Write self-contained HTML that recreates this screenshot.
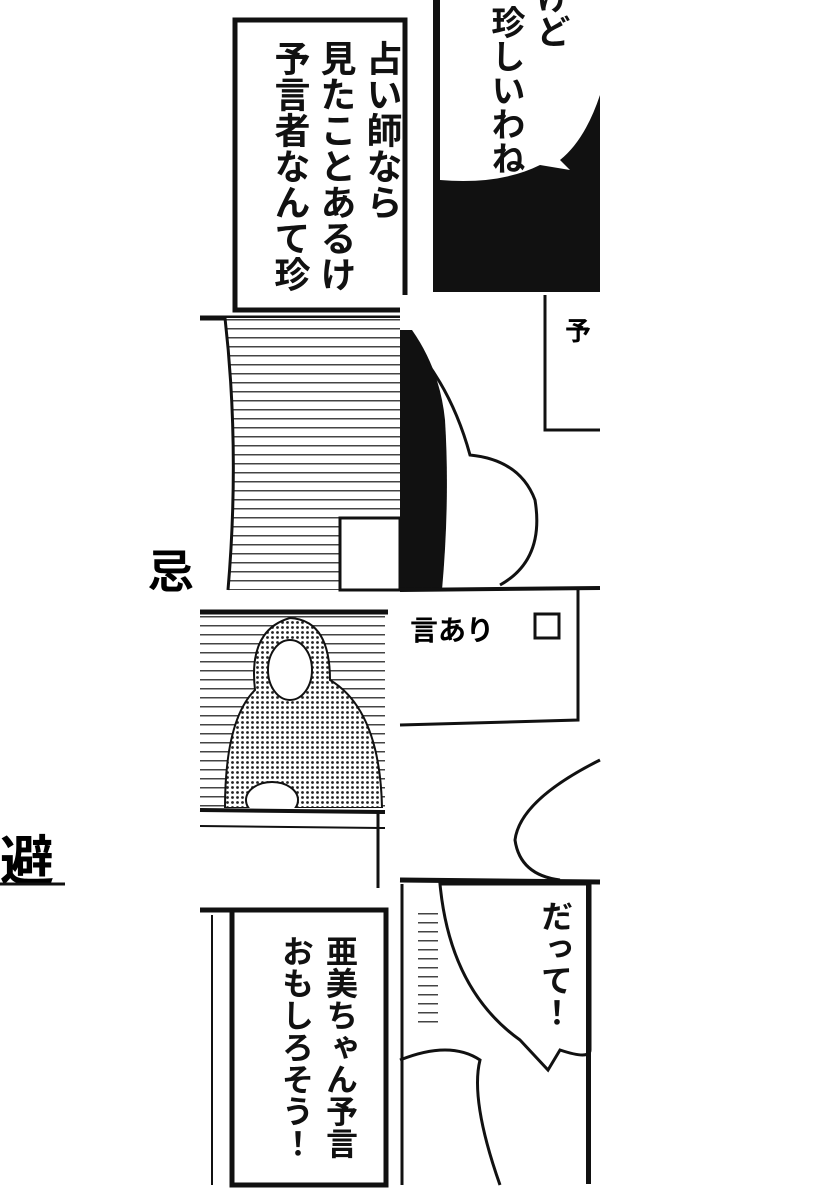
<!DOCTYPE html>
<html><head><meta charset="utf-8"><style>
html,body{margin:0;padding:0;background:#fff;}
svg{display:block}
.v{writing-mode:vertical-rl;font-family:"Liberation Sans","Noto Sans CJK JP",sans-serif;font-weight:bold;fill:#111}
</style></head><body>
<svg width="820" height="1200" viewBox="0 0 820 1200" xmlns="http://www.w3.org/2000/svg">
<defs>
<pattern id="dots" width="5" height="5" patternUnits="userSpaceOnUse"><rect width="5" height="5" fill="#fff"/><circle cx="2.5" cy="2.5" r="1.4" fill="#222"/></pattern>
<pattern id="hl" width="10" height="9" patternUnits="userSpaceOnUse"><rect width="10" height="9" fill="#fff"/><rect y="4" width="10" height="1.5" fill="#444"/></pattern>
</defs>
<rect x="235" y="20" width="170" height="290" fill="#fff" stroke="#111" stroke-width="5"/>
<text class="v" x="382" y="40" font-size="36" style="writing-mode:tb">占い師なら</text>
<text class="v" x="336" y="40" font-size="36" style="writing-mode:tb">見たことあるけ</text>
<text class="v" x="290" y="40" font-size="36" style="writing-mode:tb">予言者なんて珍</text>
<rect x="433" y="0" width="167" height="292" fill="#111"/>
<path d="M440 0 L600 0 L600 95 Q585 140 560 160 L570 170 L540 165 Q500 185 440 180 Z" fill="#fff"/>
<text class="v" x="505" y="5" font-size="34" style="writing-mode:tb">珍しいわね</text>
<text class="v" x="550" y="-20" font-size="34" style="writing-mode:tb">けど</text>
<rect x="200" y="315" width="200" height="275" fill="#fff"/>
<path d="M200 318 L400 318" stroke="#111" stroke-width="5"/>
<path d="M225 318 Q240 450 228 590 L400 590 L400 318 Z" fill="url(#hl)"/>
<path d="M225 318 Q240 450 228 590" stroke="#111" stroke-width="3" fill="none"/>
<rect x="340" y="518" width="60" height="72" fill="#fff" stroke="#111" stroke-width="3"/>
<text x="148" y="588" font-size="46" font-weight="bold" font-family="Liberation Sans,Noto Sans CJK JP,sans-serif">忌</text>
<rect x="400" y="295" width="200" height="295" fill="#fff"/>
<path d="M400 330 L412 330 Q440 370 445 420 Q450 500 442 590 L400 590 Z" fill="#111"/>
<path d="M425 360 Q455 400 470 455 Q520 460 535 500 Q545 560 500 585" stroke="#111" stroke-width="3" fill="none"/>
<path d="M545 295 L545 430 L600 430" stroke="#111" stroke-width="3" fill="none"/>
<line x1="400" y1="590" x2="600" y2="588" stroke="#111" stroke-width="4"/>
<text x="565" y="340" font-size="26" font-weight="bold" font-family="Noto Sans CJK JP,sans-serif">予</text>
<rect x="200" y="610" width="185" height="275" fill="url(#hl)"/>
<line x1="200" y1="612" x2="388" y2="612" stroke="#111" stroke-width="5"/>
<path d="M225 808 Q225 720 255 690 Q248 630 290 618 Q330 620 330 680 Q380 710 382 808 Z" fill="url(#dots)" stroke="#111" stroke-width="2"/>
<ellipse cx="290" cy="670" rx="22" ry="30" fill="#fff" stroke="#111" stroke-width="2"/>
<ellipse cx="272" cy="800" rx="26" ry="18" fill="#fff" stroke="#111" stroke-width="2"/>
<rect x="200" y="808" width="185" height="80" fill="#fff"/>
<line x1="200" y1="810" x2="385" y2="812" stroke="#111" stroke-width="4"/>
<line x1="200" y1="826" x2="385" y2="828" stroke="#111" stroke-width="2"/>
<line x1="378" y1="812" x2="378" y2="888" stroke="#111" stroke-width="3"/>
<text x="410" y="640" font-size="28" font-weight="bold" font-family="Noto Sans CJK JP,sans-serif">言あり</text>
<rect x="535" y="614" width="24" height="24" fill="none" stroke="#111" stroke-width="3"/>
<path d="M578 590 L578 720 L400 725" stroke="#111" stroke-width="3" fill="none"/>
<path d="M600 760 Q520 800 515 840 Q520 875 560 880" stroke="#111" stroke-width="3" fill="none"/>
<line x1="400" y1="880" x2="600" y2="882" stroke="#111" stroke-width="5"/>
<text x="0" y="880" font-size="54" font-weight="bold" font-family="Liberation Sans,Noto Sans CJK JP,sans-serif">避</text>
<line x1="0" y1="884" x2="65" y2="884" stroke="#111" stroke-width="3"/>
<rect x="232" y="910" width="154" height="275" fill="#fff" stroke="#111" stroke-width="5"/>
<line x1="200" y1="910" x2="232" y2="910" stroke="#111" stroke-width="5"/>
<text class="v" x="340" y="935" font-size="32" style="writing-mode:tb">亜美ちゃん予言</text>
<text class="v" x="296" y="935" font-size="32" style="writing-mode:tb">おもしろそう！</text>
<line x1="212" y1="915" x2="212" y2="1185" stroke="#111" stroke-width="2"/>
<path d="M402 884 L402 1185" stroke="#111" stroke-width="3"/>
<path d="M440 884 Q450 990 520 1040 L548 1070 L560 1050 Q590 1060 590 1050 L590 884 Z" fill="#fff" stroke="#111" stroke-width="3"/>
<path d="M400 1060 Q450 1040 480 1060 Q470 1100 500 1185" stroke="#111" stroke-width="3" fill="none"/>
<rect x="586" y="884" width="5" height="300" fill="#111"/>
<text class="v" x="555" y="900" font-size="32" style="writing-mode:tb">だって！</text>
<rect x="418" y="910" width="20" height="120" fill="url(#hl)"/>
</svg>
</body></html>
